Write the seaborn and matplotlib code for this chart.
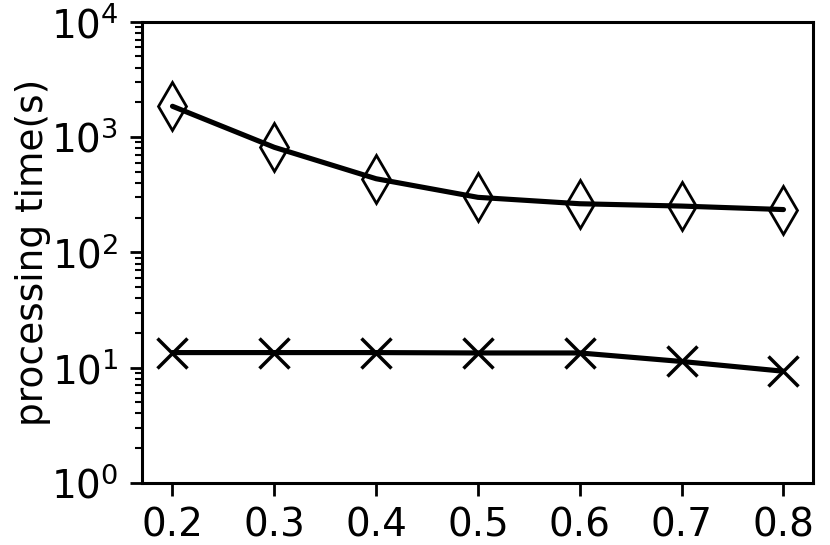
import numpy as np
import pandas as pd
import matplotlib
matplotlib.use('Agg')
import matplotlib.pyplot as plt
import seaborn as sns

ratios = [0.2, 0.3, 0.4, 0.5, 0.6, 0.7, 0.8]
time_diamond = [1850, 815, 435, 300, 264, 252, 235]
time_cross = [13.5, 13.5, 13.5, 13.4, 13.4, 11.3, 9.3]

sns.set_style('ticks', {'axes.edgecolor': 'black', 'text.color': 'black',
                        'axes.labelcolor': 'black', 'xtick.color': 'black',
                        'ytick.color': 'black'})
plt.rcParams['font.family'] = ['DejaVu Sans']

dados = pd.DataFrame({
    'ratio': ratios * 2,
    'time': time_diamond + time_cross,
    'method': ['diamond'] * len(ratios) + ['cross'] * len(ratios),
})

fig = plt.figure(figsize=(8.3, 5.45), dpi=100)
ax = fig.add_axes([0.171, 0.114, 0.8085, 0.846])

sns.lineplot(data=dados[dados['method'] == 'diamond'], x='ratio', y='time',
             color='black', linewidth=3.7, marker='d', markersize=24,
             markerfacecolor='none', markeredgecolor='black', markeredgewidth=2,
             ax=ax)
sns.lineplot(data=dados[dados['method'] == 'cross'], x='ratio', y='time',
             color='black', linewidth=3.7, marker='x', markersize=22,
             markeredgecolor='black', markeredgewidth=2.5, ax=ax)

ax.set_yscale('log')
ax.set_ylim(1, 1e4)
ax.set_xlim(0.17, 0.829)
ax.set_xticks(ratios)
ax.set_xticklabels([str(r) for r in ratios])
ax.set_xlabel('')
ax.set_ylabel('processing time(s)', fontsize=27, labelpad=0)
ax.tick_params(axis='both', which='major', labelsize=28, length=9, width=2, pad=8)
ax.tick_params(axis='y', which='minor', length=5, width=1.5)
for s in ax.spines.values():
    s.set_linewidth(2.2)

plt.savefig('out.png', dpi=100)
